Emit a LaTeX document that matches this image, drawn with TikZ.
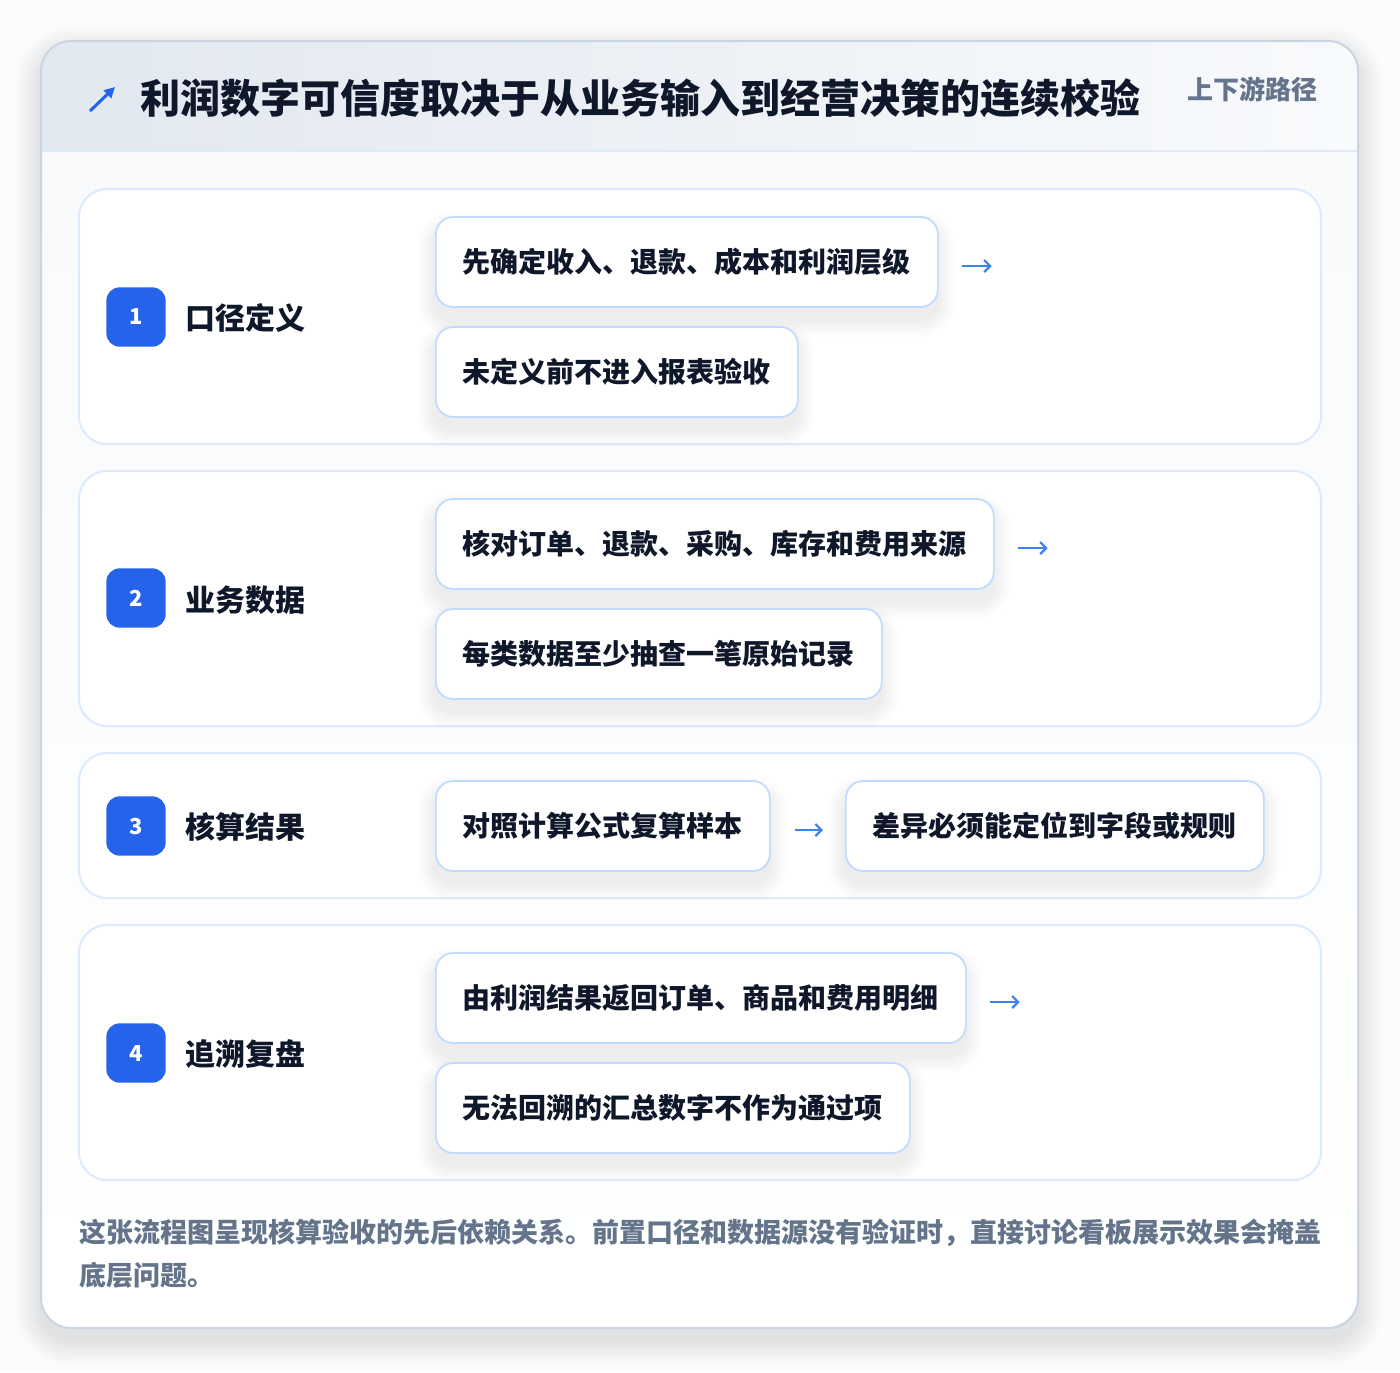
\documentclass[tikz,border=0pt]{standalone}
\usepackage{fontspec}
\setmainfont{Noto Sans CJK SC}
\usetikzlibrary{arrows.meta}
\definecolor{pagebg}{HTML}{FBFCFD}
\definecolor{cardborder}{HTML}{CBD5E1}
\definecolor{headL}{HTML}{E2E8F0}
\definecolor{headR}{HTML}{F8FAFC}
\definecolor{headline}{HTML}{DBEAFE}
\definecolor{secborder}{HTML}{DBEAFE}
\definecolor{boxborder}{HTML}{BFDBFE}
\definecolor{badgeblue}{HTML}{2563EB}
\definecolor{arrowblue}{HTML}{3B82F6}
\definecolor{ink}{HTML}{0F172A}
\definecolor{slate}{HTML}{64748B}
\tikzset{
  section/.style={draw=secborder,line width=1.5pt,fill=white,rounded corners=21pt},
  badge/.style={fill=badgeblue,text=white,rounded corners=10pt,minimum width=44.5pt,minimum height=44.5pt,inner sep=0pt,font=\bfseries\fontsize{16.5}{18}\selectfont},
  seclabel/.style={anchor=west,inner sep=0pt,text=ink,font=\bfseries\fontsize{22.5}{26}\selectfont},
  stepbox/.style={draw=boxborder,line width=1.3pt,fill=white,rounded corners=13pt,anchor=west,inner xsep=20.25pt,inner ysep=0pt,minimum height=67.5pt,text=ink,font=\bfseries\fontsize{21}{24}\selectfont},
  flowarrow/.style={draw=arrowblue,line width=1.7pt,-{Straight Barb[length=4.5pt,width=9pt,line width=1.7pt]}},
  footnote/.style={anchor=west,inner sep=0pt,text=slate,font=\bfseries\fontsize{20.25}{24}\selectfont},
}
\begin{document}
\begin{tikzpicture}[x=0.75pt,y=-0.75pt]
\useasboundingbox (0,0) rectangle (1400,1372);
\fill[pagebg] (0,0) rectangle (1400,1372);
% outer card shadow
\foreach \i in {1,...,26}{
  \fill[black,opacity=0.0045,rounded corners={(30+\i)*0.75pt}] ({41-\i},{41-\i+12}) rectangle ({1358+\i},{1328+\i+12});
}
% outer card
\begin{scope}
  \clip[rounded corners=22.5pt] (41,41) rectangle (1358,1328);
  \shade[top color=headR,bottom color=white] (41,151) rectangle (1358,1328);
  \shade[left color=headL,right color=headR] (41,41) rectangle (1358,151);
  \draw[headline,line width=1.5pt] (41,151) -- (1358,151);
\end{scope}
\draw[cardborder,line width=1.5pt,rounded corners=22.5pt] (41,41) rectangle (1358,1328);
% header
\draw[badgeblue,line width=2.3pt,-{Triangle[length=8pt,width=8pt]}] (90,111) -- (115,87);
\node[anchor=west,inner sep=0pt,text=ink,font=\bfseries\fontsize{30}{34}\selectfont] (title) at (140,98) {利润数字可信度取决于从业务输入到经营决策的连续校验};
\node[anchor=east,inner sep=0pt,text=slate,font=\bfseries\fontsize{19.5}{22}\selectfont] (tag) at (1318,89) {上下游路径};
% sections
\draw[section] (79,189) rectangle (1321,444);
\draw[section] (79,471) rectangle (1321,726);
\draw[section] (79,753) rectangle (1321,898);
\draw[section] (79,925) rectangle (1321,1180);
% step shadows
\foreach \a/\b/\c/\d in {435/217/937/307, 435/327/797/417, 435/499/993/589, 435/609/881/699, 435/781/769/871, 845/781/1263/871, 435/953/965/1043, 435/1063/909/1153}{
  \foreach \i in {1,...,18}{
    \fill[black,opacity=0.0035,rounded corners={(17+\i)*0.75pt}] ({\a-\i},{\b-\i+12}) rectangle ({\c+\i},{\d+\i+12});
  }
}
% row 1
\node[badge] (n1) at (136,317) {1};
\node[seclabel] (l1) at (185,318) {口径定义};
\node[stepbox] (s11) at (435,262) {先确定收入、退款、成本和利润层级};
\node[stepbox] (s12) at (435,372) {未定义前不进入报表验收};
\coordinate (e1) at ([shift={(53,4)}]s11.east);
\draw[flowarrow] ([shift={(23,4)}]s11.east) -- (e1);
% row 2
\node[badge] (n2) at (136,598) {2};
\node[seclabel] (l2) at (185,600) {业务数据};
\node[stepbox] (s21) at (435,544) {核对订单、退款、采购、库存和费用来源};
\node[stepbox] (s22) at (435,654) {每类数据至少抽查一笔原始记录};
\coordinate (e2) at ([shift={(53,4)}]s21.east);
\draw[flowarrow] ([shift={(23,4)}]s21.east) -- (e2);
% row 3
\node[badge] (n3) at (136,826) {3};
\node[seclabel] (l3) at (185,827) {核算结果};
\node[stepbox] (s31) at (435,826) {对照计算公式复算样本};
\node[stepbox] (s32) at (845,826) {差异必须能定位到字段或规则};
\draw[flowarrow,shorten <=18pt,shorten >=16.5pt] ([yshift=-3pt]s31.east) -- ([yshift=-3pt]s32.west);
% row 4
\node[badge] (n4) at (136,1053) {4};
\node[seclabel] (l4) at (185,1054) {追溯复盘};
\node[stepbox] (s41) at (435,998) {由利润结果返回订单、商品和费用明细};
\node[stepbox] (s42) at (435,1108) {无法回溯的汇总数字不作为通过项};
\coordinate (e4) at ([shift={(53,4)}]s41.east);
\draw[flowarrow] ([shift={(23,4)}]s41.east) -- (e4);
% footer
\node[footnote] (f1) at (79,1233) {这张流程图呈现核算验收的先后依赖关系。前置口径和数据源没有验证时，直接讨论看板展示效果会掩盖};
\node[footnote] (f2) at (79,1275) {底层问题。};
\end{tikzpicture}
\end{document}
